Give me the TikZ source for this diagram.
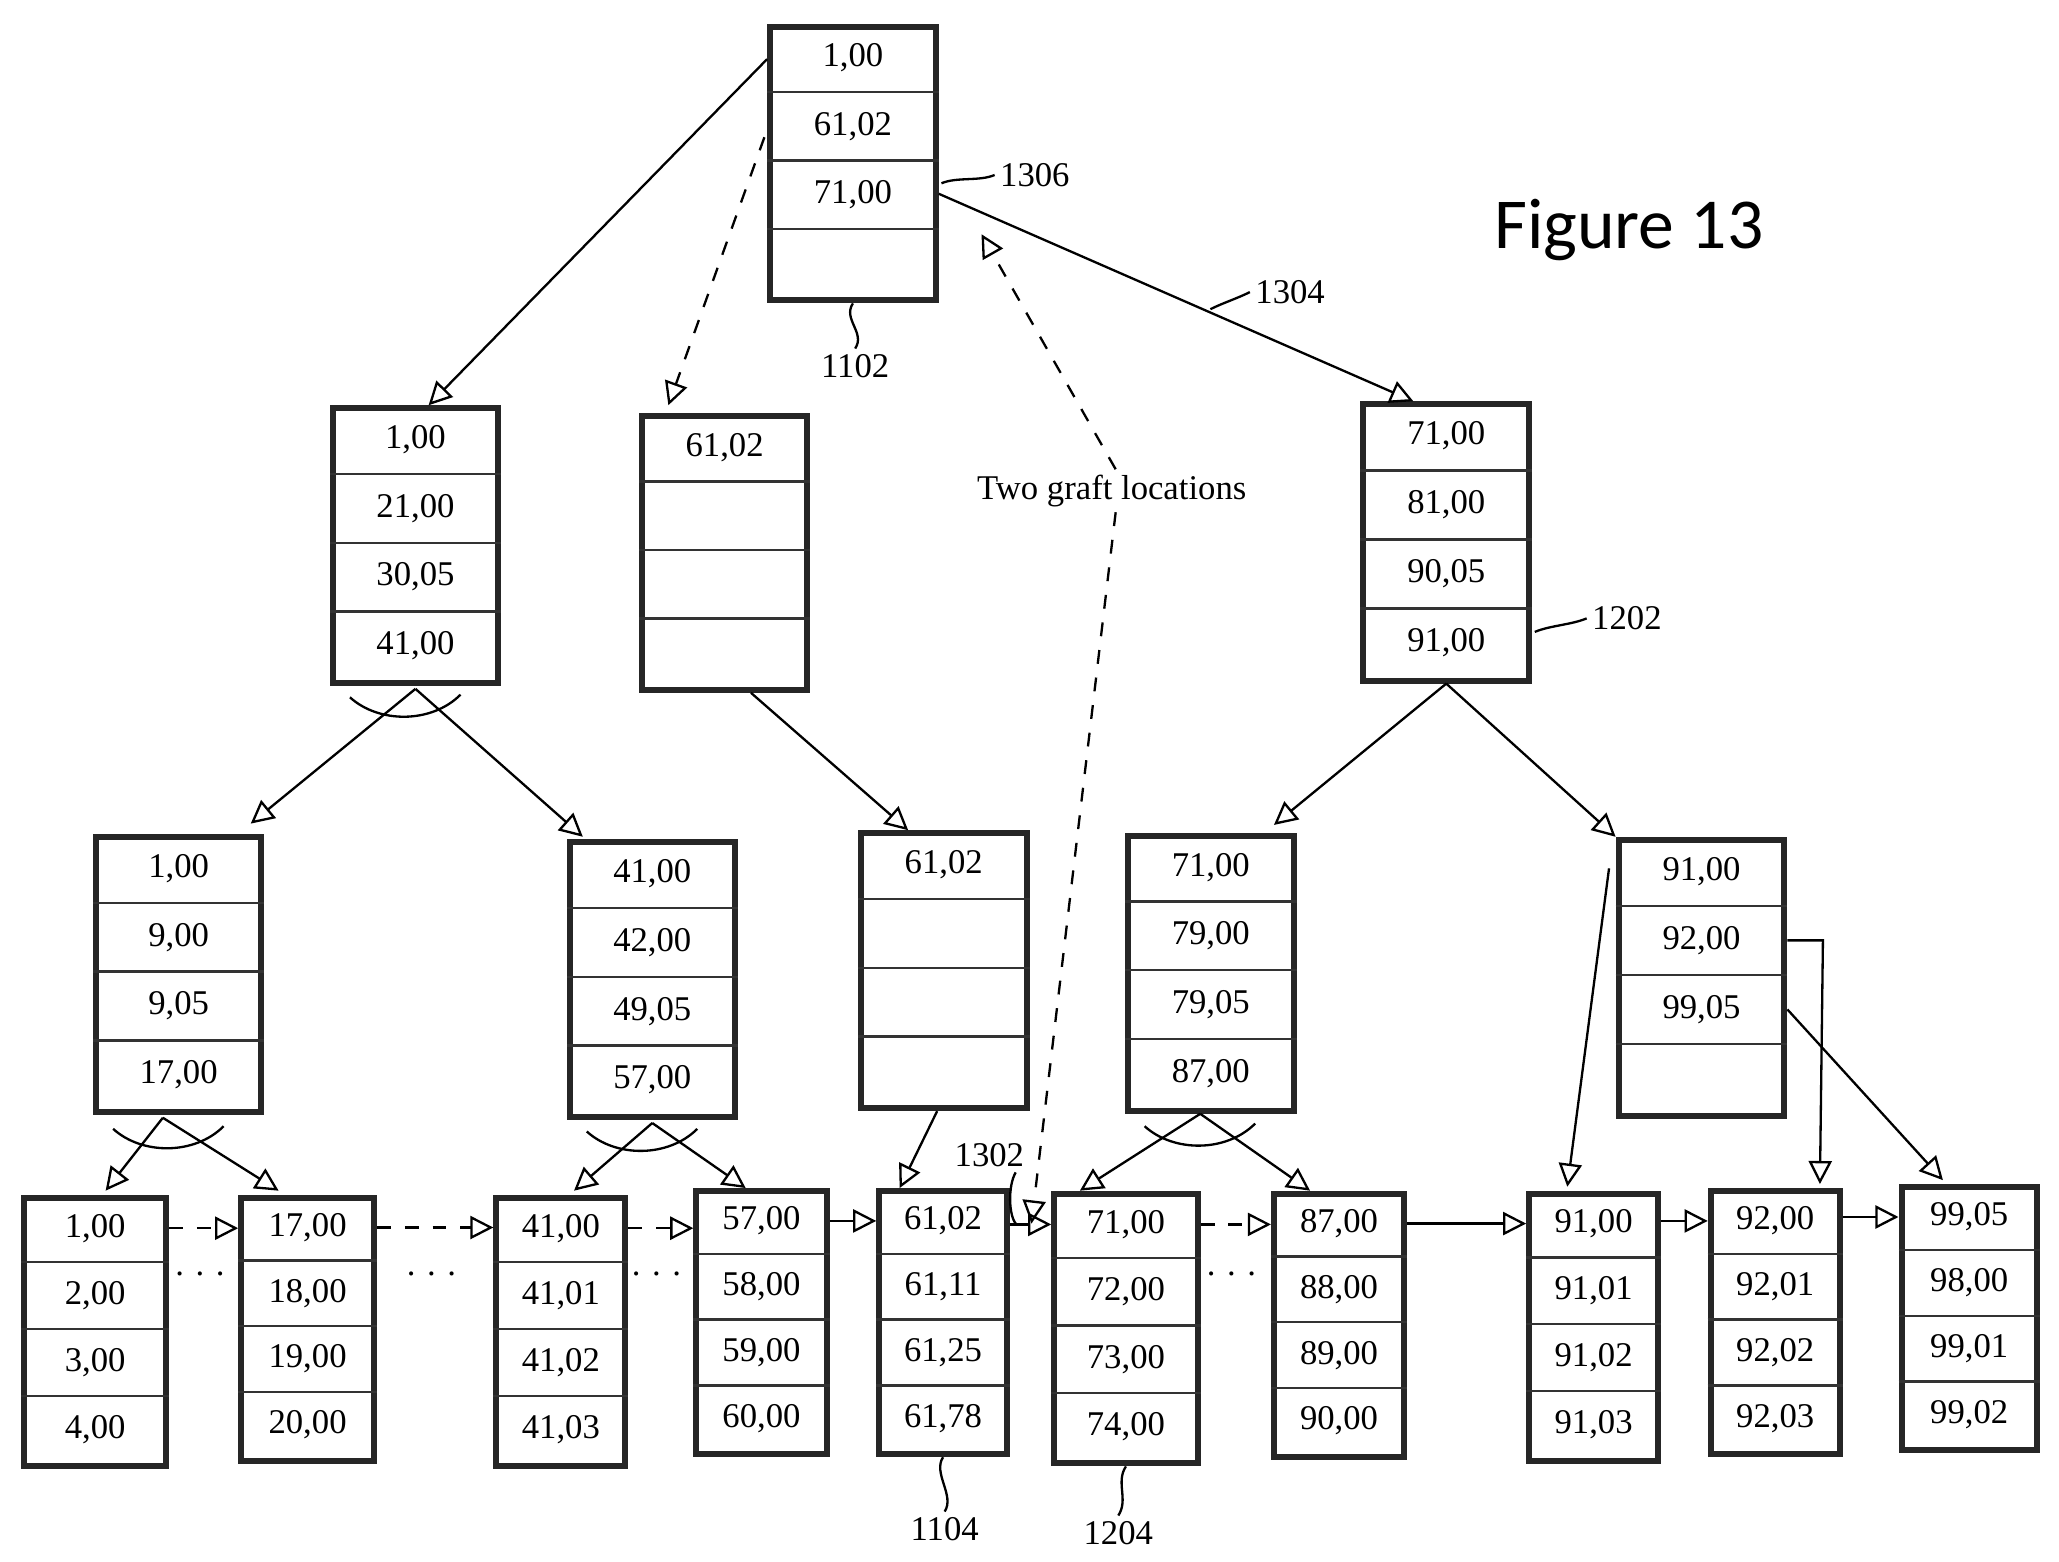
\documentclass[tikz,border=0pt]{standalone}
\usepackage{fontspec}
\setmainfont{Liberation Serif}
\newfontfamily\figfont{Carlito}
\usetikzlibrary{calc,arrows.meta,positioning}

\tikzset{
	box/.style={draw=black!85,line width=1.3pt,inner sep=0pt,anchor=north west},
	cell/.style={inner sep=1pt,font=\fontsize{7.5}{9}\selectfont},
	sep/.style={draw=black!80,line width=.5pt},
	link/.style={-{Triangle[open,length=5pt,width=5pt]},line width=.5pt},
	dlink/.style={link,dashed},
	lab/.style={inner sep=1pt,font=\fontsize{7.5}{9}\selectfont},
	squig/.style={line width=.5pt}
}

% name, x, y (top), width, height, entries
\newcommand{\tbox}[6]{
	\node[box,minimum width=#4*0.1mm,minimum height=#5*0.1mm] (#1) at (#2,#3) {};
	\foreach \t [count=\i] in {#6} {
		\node[cell] (#1-\i) at ($(#1.north)+(0,{(\i-0.5)*#5/4})$) {\t};
	}
	\foreach \i in {1,2,3} {
		\draw[sep] ($(#1.north west)+(0,{\i*#5/4})$) -- ($(#1.north east)+(0,{\i*#5/4})$);
	}
}

\begin{document}
\begin{tikzpicture}[x=0.1mm,y=-0.1mm]
	\useasboundingbox (0,0) rectangle (1565,1187);
	
	%--------------------------------------------- nodes
	\tbox{root}{583}{18}{126}{208}{{1,00},{61,02},{71,00},{}}
	
	\tbox{ia}{251}{308}{125}{209}{{1,00},{21,00},{30,05},{41,00}}
	\tbox{ib}{486}{314}{125}{208}{{61,02},{},{},{}}
	\tbox{ic}{1034}{305}{126}{210}{{71,00},{81,00},{90,05},{91,00}}
	
	\tbox{ma}{71}{634}{125}{209}{{1,00},{9,00},{9,05},{17,00}}
	\tbox{mb}{431}{638}{125}{209}{{41,00},{42,00},{49,05},{57,00}}
	\tbox{mc}{652}{631}{126}{209}{{61,02},{},{},{}}
	\tbox{md}{855}{633}{126}{209}{{71,00},{79,00},{79,05},{87,00}}
	\tbox{me}{1228}{636}{126}{210}{{91,00},{92,00},{99,05},{}}
	
	\tbox{la}{16}{908}{108}{204}{{1,00},{2,00},{3,00},{4,00}}
	\tbox{lb}{181}{908}{101}{200}{{17,00},{18,00},{19,00},{20,00}}
	\tbox{lc}{375}{908}{98}{204}{{41,00},{41,01},{41,02},{41,03}}
	\tbox{ld}{527}{903}{99}{200}{{57,00},{58,00},{59,00},{60,00}}
	\tbox{le}{666}{903}{97}{200}{{61,02},{61,11},{61,25},{61,78}}
	\tbox{lf}{799}{905}{109}{205}{{71,00},{72,00},{73,00},{74,00}}
	\tbox{lg}{966}{905}{99}{200}{{87,00},{88,00},{89,00},{90,00}}
	\tbox{lh}{1160}{905}{98}{203}{{91,00},{91,01},{91,02},{91,03}}
	\tbox{li}{1298}{903}{98}{200}{{92,00},{92,01},{92,02},{92,03}}
	\tbox{lj}{1443}{900}{103}{200}{{99,05},{98,00},{99,01},{99,02}}
	
	%--------------------------------------------- tree links
	\draw[link] (root.north west) ++(0,27) -- ($(ia.north)+(10,0)$);
	\draw[dlink] ($(root.west)+(-2,-20)$) -- ($(ib.north west)+(22,-6)$);
	\draw[link] ($(root.east)+(0,23)$) -- ($(ic.north)+(-25,0)$);
	
	\draw[link] (ia.south) ++(0,2) -- ($(ma.north east)+(-10,-8)$);
	\draw[link] (ia.south) ++(0,2) -- ($(mb.north west)+(12,-2)$);
	\draw[link] (ib.south) ++(20,0) -- ($(mc.north)+(-27,0)$);
	\draw[link] (ic.south) -- ($(md.north)+(48,-6)$);
	\draw[link] (ic.south) -- (me.north west);
	
	\draw[link] (ma.south) ++(-12,2) -- ($(la.north)+(8,-3)$);
	\draw[link] (ma.south) ++(-12,2) -- ($(lb.north)+(-22,-3)$);
	\draw[link] (mb.south) ++(0,2) -- ($(lc.north)+(10,-3)$);
	\draw[link] (mb.south) ++(0,2) -- ($(ld.north)+(-12,0)$);
	\draw[link] (mc.south) ++(-5,0) -- ($(le.north)+(-33,0)$);
	\draw[link] (md.south) ++(-8,0) -- ($(lf.north)+(-35,0)$);
	\draw[link] (md.south) ++(-8,0) -- ($(lg.north)+(-22,0)$);
	\draw[link] ($(me.north west)+(-5,24)$) -- ($(lh.north)+(-20,-3)$);
	\draw[link] (me.east |- me-2) -- ++(27,0) -- ($(li.north)+(34,-3)$);
	\draw[link] (me.east |- me-3) -- ($(lj.north)+(-20,-3)$);
	
	% split arcs
	\draw[squig] (266,530) .. controls (288,550) and (328,550) .. (350,528);
	\draw[squig] (86,858) .. controls (108,878) and (148,878) .. (170,856);
	\draw[squig] (446,860) .. controls (468,880) and (508,880) .. (530,858);
	\draw[squig] (870,856) .. controls (892,876) and (932,876) .. (954,854);
	
	%--------------------------------------------- leaf chain
	\draw[dlink] (la.east |- la-1) -- (lb.west |- la-1);
	\draw[dlink] (lb.east |- lb-1) -- (lc.west |- lb-1);
	\draw[dlink] (lc.east |- lc-1) -- (ld.west |- lc-1);
	\draw[link] (ld.east |- ld-1) -- (le.west |- ld-1);
	\draw[link] (le.east |- lf-1) -- (lf.west |- lf-1);
	\draw[dlink] (lf.east |- lf-1) -- (lg.west |- lf-1);
	\draw[link] (lg.east |- lg-1) -- (lh.west |- lg-1);
	\draw[link] (lh.east |- li-1) -- (li.west |- li-1);
	\draw[link] (li.east |- lj-1) -- (lj.west |- lj-1);
	
	\node[lab] (da) at (152,968) {. . .};
	\node[lab] (db) at (328,968) {. . .};
	\node[lab] (dc) at (499,968) {. . .};
	\node[lab] (dd) at (936,968) {. . .};
	
	%--------------------------------------------- labels
	\node[lab] (graft) at (845,373) {Two graft locations};
	\draw[dlink] ($(graft.north)+(3,0)$) -- (746,178);
	\draw[dlink] ($(graft.south)+(3,0)$) -- ($(lf.north west)+(-15,25)$);
	
	\node[lab,anchor=west] (n1306) at (756,133) {1306};
	\draw[squig] ($(root.east)+(2,15)$) .. controls +(12,-5) and +(-12,5) .. (n1306.west);
	\node[lab] (n1102) at (650,278) {1102};
	\draw[squig] (root.south) .. controls +(-8,12) and +(8,-12) .. (n1102.north);
	\node[lab,anchor=west] (n1304) at (950,222) {1304};
	\draw[squig] (920,235) .. controls +(10,-5) and +(-10,5) .. (n1304.west);
	\node[lab,anchor=west] (n1202) at (1206,470) {1202};
	\draw[squig] ($(ic.east)+(2,68)$) .. controls +(12,-5) and +(-12,5) .. (n1202.west);
	\node[lab] (n1104) at (718,1162) {1104};
	\draw[squig] (le.south) .. controls +(-8,12) and +(8,-12) .. (n1104.north);
	\node[lab] (n1204) at (850,1165) {1204};
	\draw[squig] (lf.south) .. controls +(-8,12) and +(8,-12) .. (n1204.north);
	\node[lab] (n1302) at (752,878) {1302};
	\draw[squig] (n1302.south) ++(20,0) .. controls +(-6,10) and +(-6,-6) .. ($(le.east |- lf-1)+(5,0)$);
	
	\node[font=\figfont\fontsize{15.5}{18}\selectfont,inner sep=0pt] (fig) at (1238,175) {Figure 13};
\end{tikzpicture}
\end{document}
